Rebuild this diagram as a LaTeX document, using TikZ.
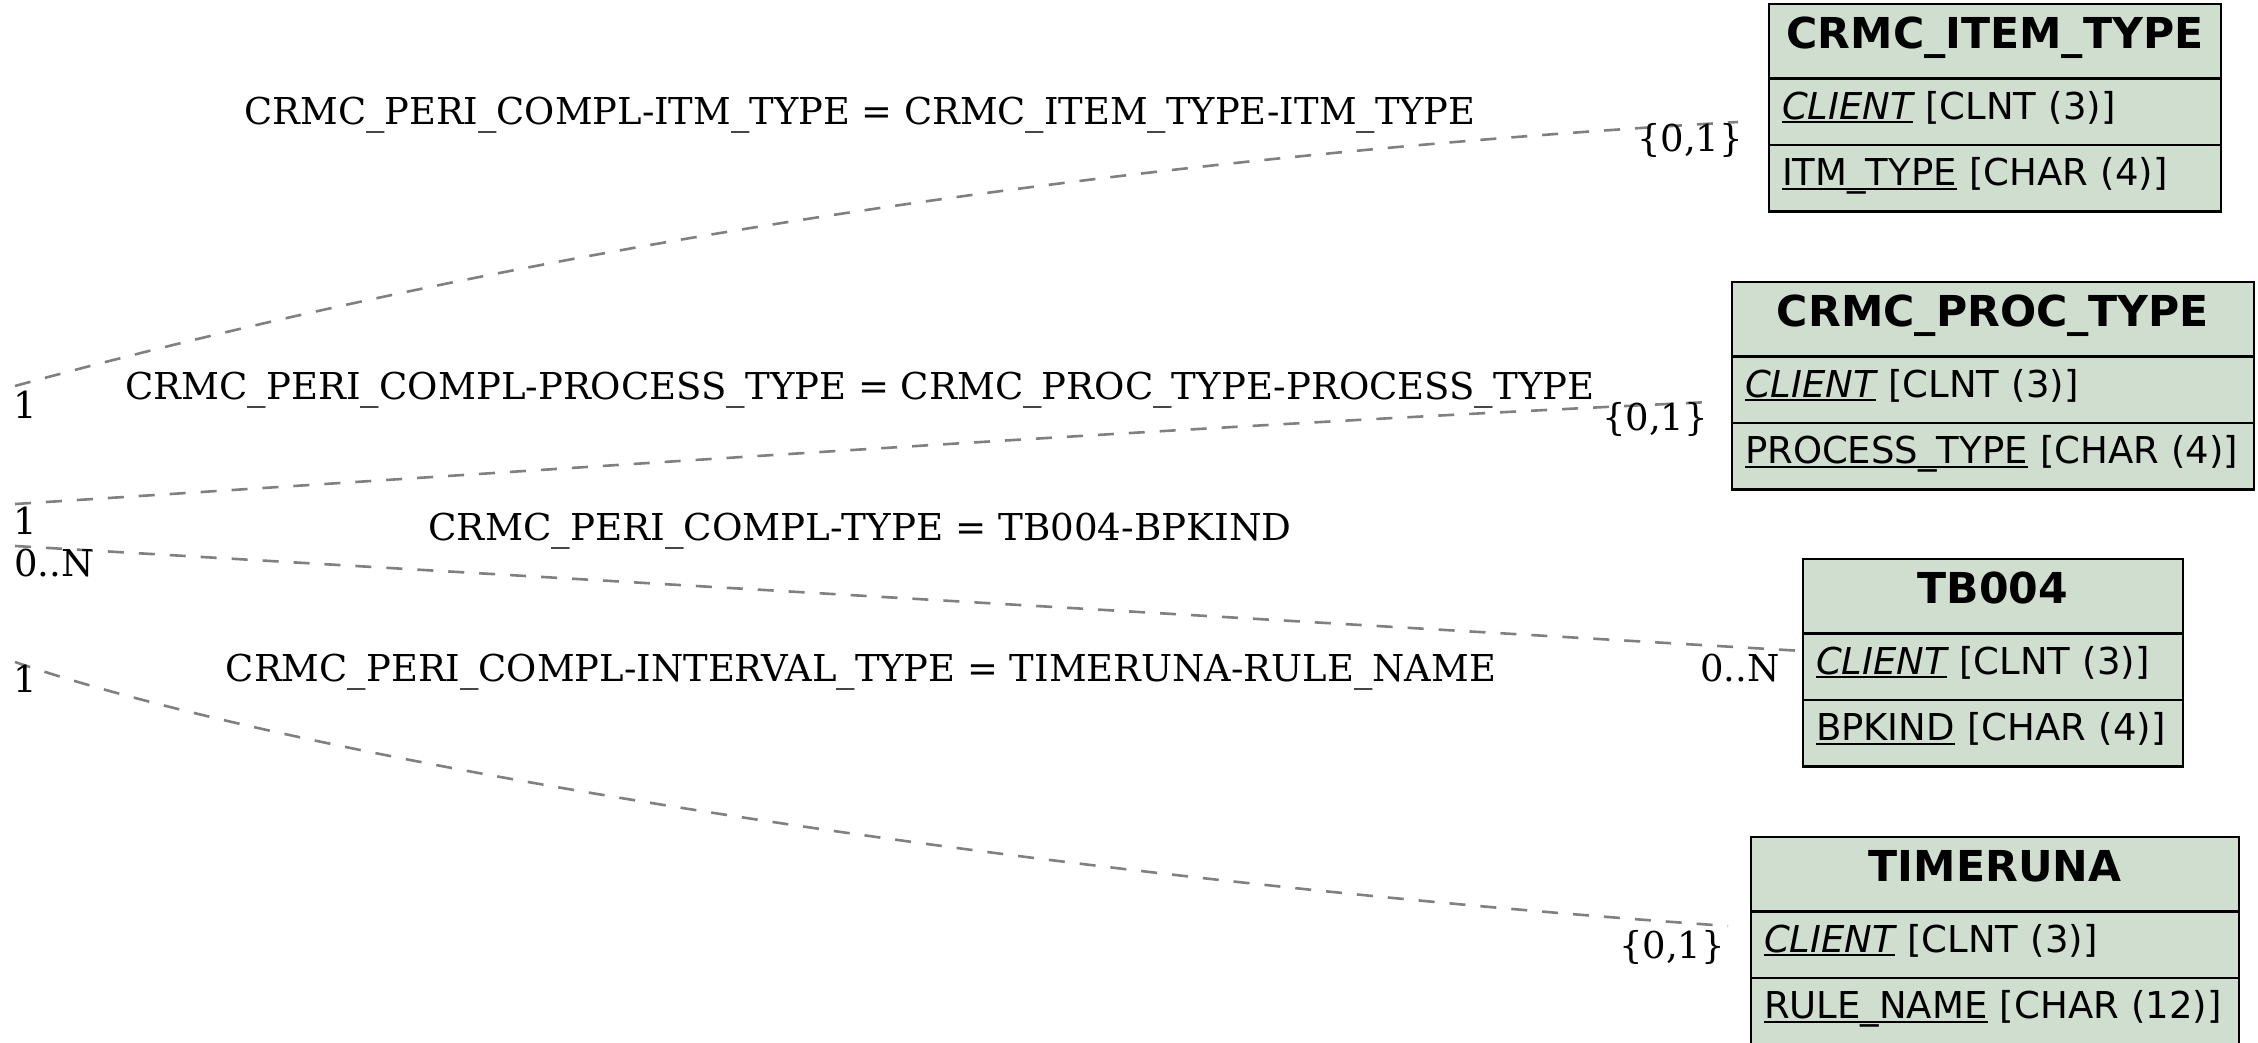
\documentclass[tikz,border=0pt]{standalone}
\usepackage{graphicx}
\usepackage{fontspec}
\setmainfont{DejaVu Sans}
\newfontfamily\relserif{DejaVu Serif}
\definecolor{tabfill}{RGB}{208,222,208}
\definecolor{relgray}{RGB}{128,128,128}
\newcommand\keyul[1]{\setbox0\hbox{#1}\rlap{\rule[-4pt]{\wd0}{2pt}}\box0\relax}
\tikzset{
  tabrow/.style={draw=black, line width=2.5pt, fill=tabfill, outer sep=0pt,
    inner xsep=13pt, inner ysep=0pt, minimum height=66.5pt,
    text height=30pt, text depth=15pt,
    font=\fontsize{37}{44}\selectfont, align=left, anchor=north west},
  tabhead/.style={tabrow, minimum height=74.5pt,
    font=\fontsize{42.6}{50}\selectfont\bfseries, align=center},
  relline/.style={draw=relgray, line width=2.6pt, dash pattern=on 16pt off 15pt},
  rellabel/.style={inner sep=0pt, anchor=base, font=\relserif\fontsize{37}{44}\selectfont},
  card/.style={inner sep=0pt, anchor=center, font=\relserif\fontsize{37}{44}\selectfont}
}
\begin{document}
\begin{tikzpicture}[x=1pt, y=-1pt]
\useasboundingbox (0,0) rectangle (2258,1043);
\fill[white] (0,0) rectangle (2258,1043);

% connector end points
\coordinate (l1) at (15,386);
\coordinate (l2) at (15,504);
\coordinate (l3) at (15,546);
\coordinate (l4) at (15,662);
\coordinate (r1) at (1738,122);
\coordinate (r2) at (1710,402);
\coordinate (r3) at (1803,651);
\coordinate (r4) at (1728,926);

% connectors
\draw[relline] (l1) .. controls (330,300) and (900,170) .. (r1);
\draw[relline] (l2) .. controls (580,468) and (1150,428) .. (r2);
\draw[relline] (l3) -- (r3);
\draw[relline] (l4) .. controls (300,760) and (1000,875) .. (r4);

% tables
\node[tabhead, text width=426pt] (t1) at (1769,4) {CRMC\_ITEM\_TYPE};
\node[tabrow, text width=426pt] (t1a) at (t1.south west) {\keyul{\itshape CLIENT} [CLNT (3)]};
\node[tabrow, text width=426pt] (t1b) at (t1a.south west) {\keyul{ITM\_TYPE} [CHAR (4)]};

\node[tabhead, text width=496pt] (t2) at (1732,282) {CRMC\_PROC\_TYPE};
\node[tabrow, text width=496pt] (t2a) at (t2.south west) {\keyul{\itshape CLIENT} [CLNT (3)]};
\node[tabrow, text width=496pt] (t2b) at (t2a.south west) {\keyul{PROCESS\_TYPE} [CHAR (4)]};

\node[tabhead, text width=354pt] (t3) at (1803,559) {TB004};
\node[tabrow, text width=354pt] (t3a) at (t3.south west) {\keyul{\itshape CLIENT} [CLNT (3)]};
\node[tabrow, text width=354pt] (t3b) at (t3a.south west) {\keyul{BPKIND} [CHAR (4)]};

\node[tabhead, text width=462pt] (t4) at (1751,837) {TIMERUNA};
\node[tabrow, text width=462pt] (t4a) at (t4.south west) {\keyul{\itshape CLIENT} [CLNT (3)]};
\node[tabrow, text width=462pt] (t4b) at (t4a.south west) {\keyul{RULE\_NAME} [CHAR (12)]};

% relation labels
\node[rellabel] (lab1) at (860,124.5) {\resizebox{1231pt}{\height}{CRMC\_PERI\_COMPL-ITM\_TYPE = CRMC\_ITEM\_TYPE-ITM\_TYPE}};
\node[rellabel] (lab2) at (860,399.5) {\resizebox{1469pt}{\height}{CRMC\_PERI\_COMPL-PROCESS\_TYPE = CRMC\_PROC\_TYPE-PROCESS\_TYPE}};
\node[rellabel] (lab3) at (860,540.5) {\resizebox{863pt}{\height}{CRMC\_PERI\_COMPL-TYPE = TB004-BPKIND}};
\node[rellabel] (lab4) at (861,681.5) {\resizebox{1270pt}{\height}{CRMC\_PERI\_COMPL-INTERVAL\_TYPE = TIMERUNA-RULE\_NAME}};

% cardinalities
\node[card] (c1l) at (25,405) {1};
\node[card] (c2l) at (25,521) {1};
\node[card] (c3l) at (54,563) {0..N};
\node[card] (c4l) at (25,679) {1};
\node[card] (c1r) at (1690,140) {\{0,1\}};
\node[card] (c2r) at (1655,419) {\{0,1\}};
\node[card] (c3r) at (1740,668) {0..N};
\node[card] (c4r) at (1672,947) {\{0,1\}};
\end{tikzpicture}
\end{document}
